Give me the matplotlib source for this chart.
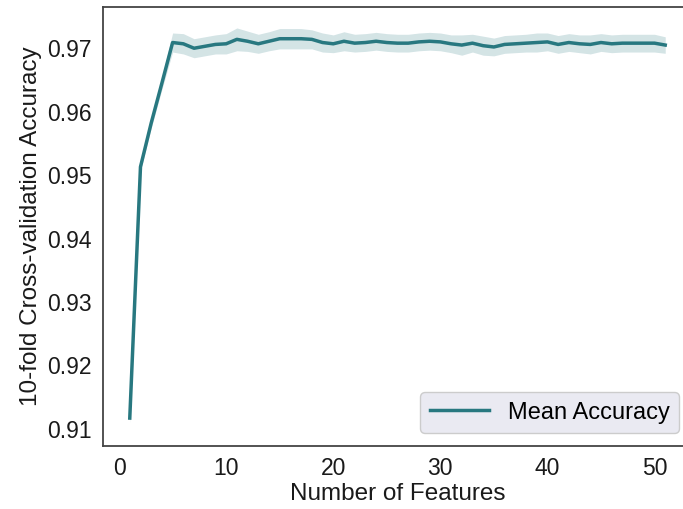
import matplotlib
matplotlib.use("Agg")
import matplotlib.pyplot as plt
import numpy as np

# number of selected features vs. 10-fold CV accuracy
n_features = list(range(1, 52))
mean_acc = [0.9117, 0.9513, 0.9582, 0.9645, 0.9709, 0.9707, 0.9700, 0.9703, 0.9706, 0.9707,
            0.9714, 0.9711, 0.9707, 0.9711, 0.9715, 0.9715, 0.9715, 0.9714, 0.9709, 0.9707,
            0.9711, 0.9708, 0.9709, 0.9711, 0.9709, 0.9708, 0.9708, 0.9710, 0.9711, 0.9710,
            0.9707, 0.9705, 0.9708, 0.9704, 0.9702, 0.9706, 0.9707, 0.9708, 0.9709, 0.9710,
            0.9706, 0.9709, 0.9707, 0.9706, 0.9709, 0.9707, 0.9708, 0.9708, 0.9708, 0.9708,
            0.9705]
# half width of the shaded band
band = [0.0008, 0.0006, 0.0008, 0.0010, 0.0015, 0.0016, 0.0015, 0.0015, 0.0015, 0.0016,
        0.0018, 0.0016, 0.0015, 0.0015, 0.0016, 0.0016, 0.0016, 0.0015, 0.0015, 0.0014,
        0.0015, 0.0014, 0.0014, 0.0014, 0.0014, 0.0014, 0.0014, 0.0014, 0.0014, 0.0014,
        0.0014, 0.0016, 0.0014, 0.0015, 0.0014, 0.0014, 0.0014, 0.0014, 0.0015, 0.0014,
        0.0014, 0.0014, 0.0014, 0.0015, 0.0014, 0.0014, 0.0014, 0.0014, 0.0014, 0.0014,
        0.0013]
y_ticks = [0.91, 0.92, 0.93, 0.94, 0.95, 0.96, 0.97]
x_ticks = [0, 10, 20, 30, 40, 50]

plt.rcParams['font.family'] = ['Liberation Sans', 'DejaVu Sans']
color = '#287880'

x = np.array(n_features)
y = np.array(mean_acc)
b = np.array(band)

fig = plt.figure(figsize=(6.83, 5.09), dpi=100)
# axes runs past the right edge of the picture, like the cropped original
ax = fig.add_axes([103/683, 63/509, 589/683, 439/509])
ax.fill_between(x, y - b, y + b, color=color, alpha=0.2, linewidth=0)
ax.plot(x, y, color=color, linewidth=2.5, label='Mean Accuracy')

ax.set_xlim(-1.5, 53.5)
ax.set_ylim(0.9073, 0.9765)
ax.set_xticks(x_ticks)
ax.set_yticks(y_ticks)
ax.set_yticklabels([f'{t:.2f}' for t in y_ticks])
ax.tick_params(axis='both', length=0, labelsize=16.5, pad=8, colors='#1a1a1a')
ax.set_xlabel('Number of Features', fontsize=17.5, color='#1a1a1a', labelpad=2)
ax.set_ylabel('10-fold Cross-validation Accuracy', fontsize=17.5, color='#1a1a1a', labelpad=4)
for s in ax.spines.values():
    s.set_color('#444444')
    s.set_linewidth(1.3)

leg = ax.legend(loc='lower right', fontsize=17, frameon=True, fancybox=True,
                borderpad=0.4, handlelength=2.5, borderaxespad=0.55)
leg.get_frame().set_facecolor('#eaeaf2')
leg.get_frame().set_edgecolor('#cccccc')
leg.get_frame().set_alpha(1.0)

fig.savefig('out.png', dpi=100)
